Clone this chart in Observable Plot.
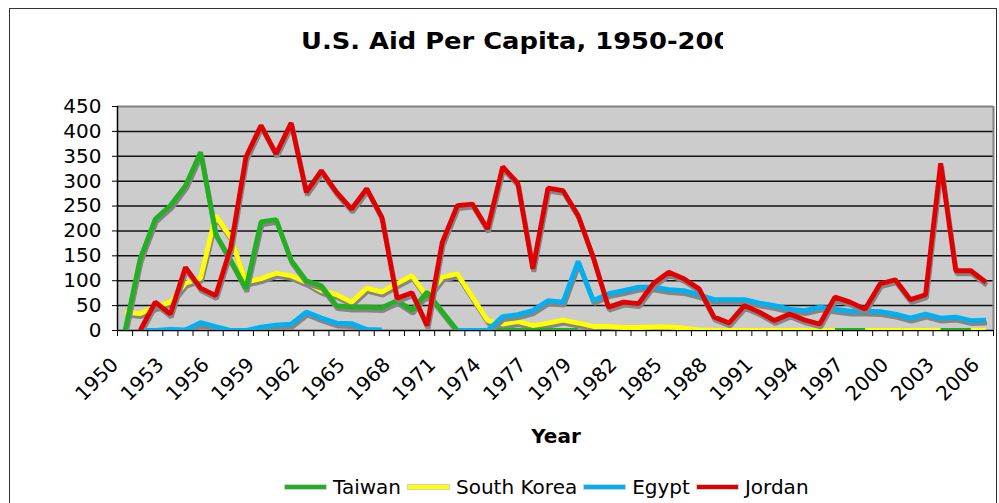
<!DOCTYPE html>
<html><head><meta charset="utf-8">
<script src="https://cdn.jsdelivr.net/npm/d3@7"></script>
<script src="https://cdn.jsdelivr.net/npm/@observablehq/plot@0.6"></script>
<style>
body{margin:0;background:#fff;}
#wrap{position:relative;width:999px;height:503px;overflow:hidden;font-family:"DejaVu Sans",Verdana,sans-serif;color:#000;}
#wrap svg{position:absolute;left:0;top:0;}
#border{position:absolute;left:9px;top:8px;width:988px;height:560px;border:1.5px solid #333;box-sizing:border-box;}
#title{position:absolute;left:301px;top:27px;width:422px;overflow:hidden;white-space:nowrap;font-weight:bold;font-size:23px;line-height:28px;}
#title span{display:inline-block;transform:scaleX(1.12);transform-origin:0 50%;}
#xlabel{position:absolute;left:556px;top:424px;transform:translateX(-50%);font-weight:bold;font-size:20px;line-height:24px;}
#legend{position:absolute;left:285px;top:475px;display:flex;align-items:center;font-size:20px;line-height:24px;white-space:nowrap;}
.sw{width:41px;height:4px;margin-right:7px;box-shadow:0 0 0 1px rgba(160,160,160,0.5);}
.it{display:flex;align-items:center;margin-right:7px;}
</style>
</head><body>
<div id="wrap">
<div id="border"></div>
<div id="title"><span>U.S. Aid Per Capita, 1950-2006</span></div>
<div id="xlabel">Year</div>
<div id="legend"></div>
</div>
<script>
const yearLabels = ["1950","1951","1952","1953","1954","1955","1956","1957","1958","1959",
"1960","1961","1962","1963","1964","1965","1966","1967","1968","1969",
"1970","1971","1972","1973","1974","1975","1976","1977","TQ","1978",
"1979","1980","1981","1982","1983","1984","1985","1986","1987","1988",
"1989","1990","1991","1992","1993","1994","1995","1996","1997","1998",
"1999","2000","2001","2002","2003","2004","2005","2006"];
const yTicks = [0,50,100,150,200,250,300,350,400,450];

const taiwan = [0,144,224,251,291,358,194,141,84,218,
223,141,100,90,50,47,47,46,60,41,
77,38,0,0,0,0,0,0,0,0,
0,null,null,null,null,null,null,null,null,null,
null,null,null,null,null,null,null,0,0,0,
null,null,null,null,0,0,0,null];
const southKorea = [37,34,48,57,95,105,231,187,97,104,
115,110,97,80,72,57,85,77,94,110,
67,107,114,67,20,13,18,10,15,21,
15,8,8,6,6,7,7,5,1,0,
0,0,0,0,0,0,0,0,0,0,
0,0,0,0,0,0,0,0];
const egypt = [null,0,0,2,1,16,8,0,0,7,
11,13,37,25,15,14,2,1,null,null,
null,null,0,0,0,28,32,40,60,57,
139,60,74,80,87,87,82,80,72,62,
62,62,55,50,43,40,47,43,39,39,
38,33,25,33,25,27,20,21];
const jordan = [null,0,57,33,127,85,70,167,348,412,
355,417,278,321,278,244,285,228,65,76,
10,177,251,254,204,329,296,124,286,281,
231,147,47,57,54,95,117,104,84,27,
15,50,37,20,33,21,13,67,57,43,
94,102,62,72,336,120,120,97];

const legendOrder = [
  {name:"Taiwan", values:taiwan, color:"#22b022"},
  {name:"South Korea", values:southKorea, color:"#ffff00"},
  {name:"Egypt", values:egypt, color:"#00b0f0"},
  {name:"Jordan", values:jordan, color:"#e00000"}
];
// drawing order (later on top)
const drawOrder = [legendOrder[1], legendOrder[0], legendOrder[2], legendOrder[3]];

const idx = d3.range(yearLabels.length);
const labelIdx = idx.filter(i => i % 3 === 0);
const boundaries = d3.range(yearLabels.length + 1).map(i => i - 0.5);

const marks = [
  Plot.frame({fill:"#cccccc", stroke:null}),
  Plot.ruleY(yTicks.filter(t => t > 0 && t < 450), {stroke:"#111", strokeWidth:1.5}),
  Plot.ruleY([450], {stroke:"#808080", strokeWidth:2}),
  Plot.ruleX([yearLabels.length - 0.5], {stroke:"#808080", strokeWidth:2}),
  Plot.ruleY([0], {stroke:"#000", strokeWidth:1.5})
];
for (const s of drawOrder) {
  const rows = s.values.map((v, i) => ({i, v}));
  marks.push(Plot.line(rows, {x:"i", y:"v", stroke:"#858585", strokeWidth:4.8, dx:1, dy:3, strokeLinejoin:"miter", strokeLinecap:"butt", clip:true}));
  marks.push(Plot.line(rows, {x:"i", y:"v", stroke:s.color, strokeWidth:4.8, strokeLinejoin:"miter", strokeLinecap:"butt", clip:true}));
}
marks.push(
  Plot.ruleX([-0.5], {stroke:"#000", strokeWidth:1.5}),
  Plot.axisY({ticks:yTicks, tickSize:5, tickPadding:11, label:null, stroke:"#000", fontSize:20}),
  Plot.axisX({ticks:boundaries, tickSize:6, tickFormat:() => "", label:null, stroke:"#000"}),
  Plot.text(labelIdx, {x:d => d, text:d => yearLabels[d], frameAnchor:"bottom", dy:31, dx:-10, rotate:-45, textAnchor:"end", lineAnchor:"middle", fontSize:20, fill:"#000"})
);

const chart = Plot.plot({
  width:999, height:503,
  marginLeft:117, marginRight:6, marginTop:106, marginBottom:173,
  x:{type:"linear", domain:[-0.5, yearLabels.length - 0.5]},
  y:{domain:[0,450]},
  style:{fontFamily:"DejaVu Sans, Verdana, sans-serif", fontSize:"20px", background:"transparent", color:"#000", overflow:"visible"},
  marks
});
document.getElementById("wrap").appendChild(chart);

const lg = document.getElementById("legend");
for (const s of legendOrder) {
  const it = document.createElement("div"); it.className = "it";
  const sw = document.createElement("div"); sw.className = "sw"; sw.style.background = s.color;
  const tx = document.createElement("span"); tx.textContent = s.name;
  it.appendChild(sw); it.appendChild(tx); lg.appendChild(it);
}
</script>
</body></html>
